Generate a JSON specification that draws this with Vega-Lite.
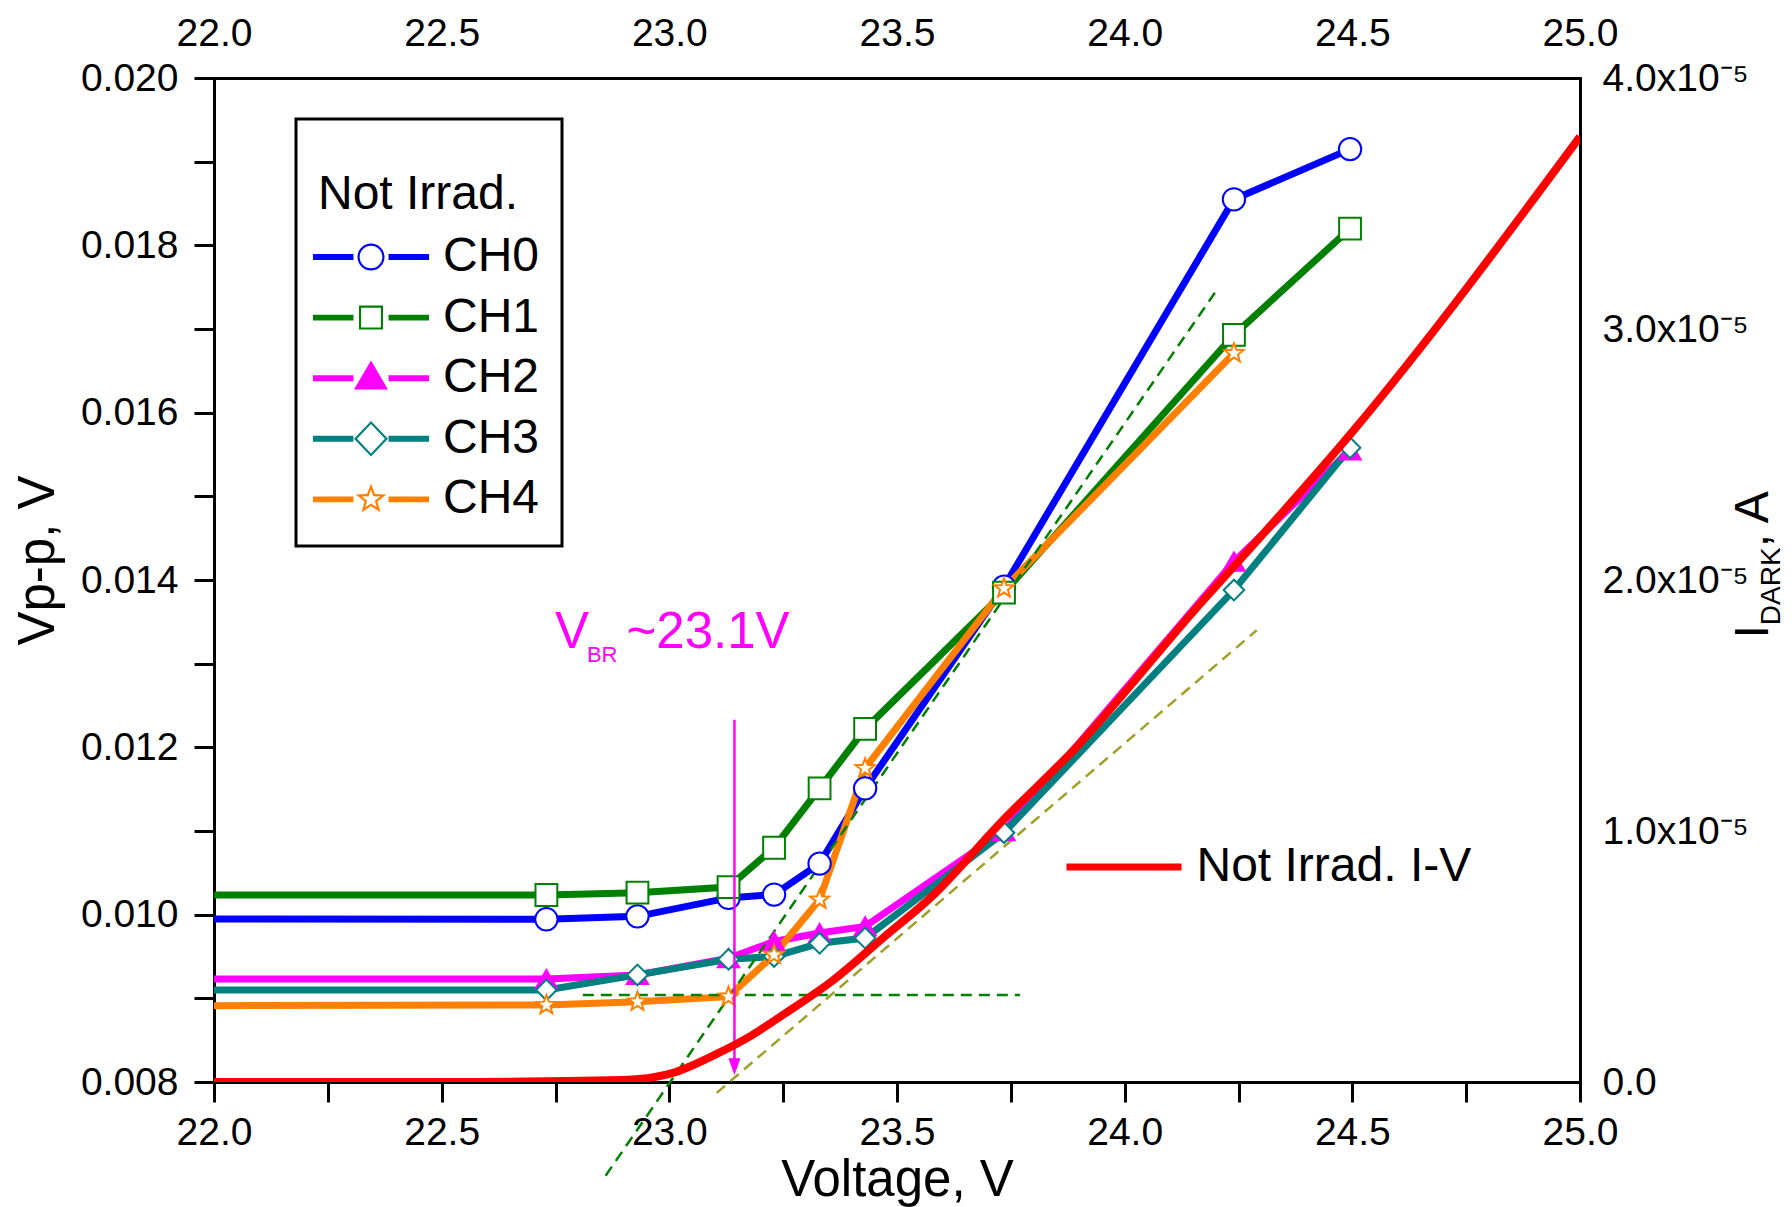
{
  "$schema": "https://vega.github.io/schema/vega-lite/v6.json",
  "width": 1366,
  "height": 1004,
  "autosize": {"type": "none"},
  "padding": {"left": 214, "top": 78, "right": 212, "bottom": 125},
  "background": "white",
  "config": {
    "font": "Liberation Sans",
    "view": {"stroke": null},
    "axis": {
      "domainColor": "black", "tickColor": "black", "labelColor": "black", "titleColor": "black",
      "labelFont": "Liberation Sans", "titleFont": "Liberation Sans",
      "labelFontSize": 39, "titleFontSize": 51, "titleFontWeight": "normal",
      "grid": false, "domainWidth": 3, "tickWidth": 3, "domainCap": "square",
      "labelFlush": false, "labelOverlap": false
    }
  },
  "datasets": {
    "channels": [
      {"ch": "CH0", "V": 21.75, "Vpp": 0.00995},
      {"ch": "CH0", "V": 22.73, "Vpp": 0.009945},
      {"ch": "CH0", "V": 22.93, "Vpp": 0.00998},
      {"ch": "CH0", "V": 23.13, "Vpp": 0.0102},
      {"ch": "CH0", "V": 23.23, "Vpp": 0.01024},
      {"ch": "CH0", "V": 23.33, "Vpp": 0.01061},
      {"ch": "CH0", "V": 23.43, "Vpp": 0.01151},
      {"ch": "CH0", "V": 23.735, "Vpp": 0.01392},
      {"ch": "CH0", "V": 24.24, "Vpp": 0.01855},
      {"ch": "CH0", "V": 24.495, "Vpp": 0.01915},
      {"ch": "CH1", "V": 21.75, "Vpp": 0.010235},
      {"ch": "CH1", "V": 22.73, "Vpp": 0.010235},
      {"ch": "CH1", "V": 22.93, "Vpp": 0.010263},
      {"ch": "CH1", "V": 23.13, "Vpp": 0.01033},
      {"ch": "CH1", "V": 23.23, "Vpp": 0.0108},
      {"ch": "CH1", "V": 23.33, "Vpp": 0.01151},
      {"ch": "CH1", "V": 23.43, "Vpp": 0.01222},
      {"ch": "CH1", "V": 23.735, "Vpp": 0.01385},
      {"ch": "CH1", "V": 24.24, "Vpp": 0.01693},
      {"ch": "CH1", "V": 24.495, "Vpp": 0.0182},
      {"ch": "CH2", "V": 21.75, "Vpp": 0.00923},
      {"ch": "CH2", "V": 22.73, "Vpp": 0.00923},
      {"ch": "CH2", "V": 22.93, "Vpp": 0.00928},
      {"ch": "CH2", "V": 23.13, "Vpp": 0.00948},
      {"ch": "CH2", "V": 23.23, "Vpp": 0.00968},
      {"ch": "CH2", "V": 23.33, "Vpp": 0.00978},
      {"ch": "CH2", "V": 23.43, "Vpp": 0.00986},
      {"ch": "CH2", "V": 23.735, "Vpp": 0.0110},
      {"ch": "CH2", "V": 24.24, "Vpp": 0.01422},
      {"ch": "CH2", "V": 24.495, "Vpp": 0.01555},
      {"ch": "CH3", "V": 21.75, "Vpp": 0.0091},
      {"ch": "CH3", "V": 22.73, "Vpp": 0.0091},
      {"ch": "CH3", "V": 22.93, "Vpp": 0.00928},
      {"ch": "CH3", "V": 23.13, "Vpp": 0.009466},
      {"ch": "CH3", "V": 23.23, "Vpp": 0.0095},
      {"ch": "CH3", "V": 23.33, "Vpp": 0.009658},
      {"ch": "CH3", "V": 23.43, "Vpp": 0.00972},
      {"ch": "CH3", "V": 23.735, "Vpp": 0.01098},
      {"ch": "CH3", "V": 24.24, "Vpp": 0.01388},
      {"ch": "CH3", "V": 24.495, "Vpp": 0.01558},
      {"ch": "CH4", "V": 21.75, "Vpp": 0.00891},
      {"ch": "CH4", "V": 22.73, "Vpp": 0.00892},
      {"ch": "CH4", "V": 22.93, "Vpp": 0.00896},
      {"ch": "CH4", "V": 23.13, "Vpp": 0.00902},
      {"ch": "CH4", "V": 23.23, "Vpp": 0.00952},
      {"ch": "CH4", "V": 23.33, "Vpp": 0.01018},
      {"ch": "CH4", "V": 23.43, "Vpp": 0.01175},
      {"ch": "CH4", "V": 23.735, "Vpp": 0.0139},
      {"ch": "CH4", "V": 24.24, "Vpp": 0.01671}
    ],
    "guides": [
      {"kind": "green", "V": 22.81, "Vpp": 0.00904, "V2": 23.77, "Vpp2": 0.00904},
      {"kind": "green", "V": 22.86, "Vpp": 0.00688, "V2": 24.198, "Vpp2": 0.017433},
      {"kind": "olive", "V": 23.104, "Vpp": 0.00787, "V2": 24.29, "Vpp2": 0.0134}
    ],
    "arrow": [{"V": 23.143, "Vpp": 0.01233, "Vpp2": 0.00825}],
    "arrowhead": [{"V": 23.143, "Vpp": 0.008184}],
    "vbrBig": [
      {"V": 22.749, "Vpp": 0.013184, "t": "V"},
      {"V": 22.906, "Vpp": 0.013184, "t": "~23.1V"}
    ],
    "vbrSmall": [{"V": 22.819, "Vpp": 0.01302, "t": "BR"}],
    "iv": [
      {"series": "Not Irrad. I-V", "V": 21.75, "I": 0},
      {"series": "Not Irrad. I-V", "V": 22.0, "I": 0},
      {"series": "Not Irrad. I-V", "V": 22.5, "I": 0},
      {"series": "Not Irrad. I-V", "V": 22.9, "I": 0.00000008},
      {"series": "Not Irrad. I-V", "V": 23.0, "I": 0.00000032},
      {"series": "Not Irrad. I-V", "V": 23.104, "I": 0.00000112},
      {"series": "Not Irrad. I-V", "V": 23.18, "I": 0.00000185},
      {"series": "Not Irrad. I-V", "V": 23.25, "I": 0.00000268},
      {"series": "Not Irrad. I-V", "V": 23.36, "I": 0.00000406},
      {"series": "Not Irrad. I-V", "V": 23.47, "I": 0.00000575},
      {"series": "Not Irrad. I-V", "V": 23.58, "I": 0.00000745},
      {"series": "Not Irrad. I-V", "V": 23.726, "I": 0.0000103},
      {"series": "Not Irrad. I-V", "V": 23.895, "I": 0.00001336},
      {"series": "Not Irrad. I-V", "V": 24.173, "I": 0.0000192},
      {"series": "Not Irrad. I-V", "V": 24.253, "I": 0.0000208},
      {"series": "Not Irrad. I-V", "V": 24.5, "I": 0.0000259},
      {"series": "Not Irrad. I-V", "V": 25.0, "I": 0.00003766}
    ],
    "rtBig": [
      {"V": 25.413, "I": 0.00001767, "t": "I"},
      {"V": 25.413, "I": 0.0000213, "t": ", A"}
    ],
    "rtSmall": [{"V": 25.439, "I": 0.0000182, "t": "DARK"}]
  },
  "layer": [
    {
      "data": {"name": "channels"},
      "encoding": {
        "x": {
          "field": "V", "type": "quantitative",
          "scale": {"domain": [22, 25], "nice": false, "zero": false},
          "axis": {
            "orient": "bottom",
            "values": [22, 22.25, 22.5, 22.75, 23, 23.25, 23.5, 23.75, 24, 24.25, 24.5, 24.75, 25],
            "labelExpr": "round(datum.value*4) % 2 == 0 ? format(datum.value, '.1f') : ''",
            "tickSize": 20, "labelPadding": 11,
            "title": "Voltage, V", "titleX": 683, "titleY": 113,
            "titleBaseline": "alphabetic", "titleAlign": "center",
            "encode": {"ticks": {"update": {"y2": {"signal": "round(datum.value*4) % 2 == 0 ? 20 : 10"}}}}
          }
        },
        "y": {
          "field": "Vpp", "type": "quantitative",
          "scale": {"domain": [0.008, 0.02], "nice": false, "zero": false},
          "axis": {
            "orient": "left",
            "values": [0.008, 0.009, 0.01, 0.011, 0.012, 0.013, 0.014, 0.015, 0.016, 0.017, 0.018, 0.019, 0.02],
            "labelExpr": "round(datum.value*1000) % 2 == 0 ? format(datum.value, '.3f') : ''",
            "tickSize": 20, "labelPadding": 16,
            "title": "Vp-p, V", "titleX": -161, "titleY": 482, "titleAngle": 270,
            "titleBaseline": "alphabetic", "titleAlign": "center",
            "encode": {"ticks": {"update": {"x2": {"signal": "round(datum.value*1000) % 2 == 0 ? -20 : -10"}}}}
          }
        }
      },
      "layer": [
        {
          "mark": {"type": "line", "strokeWidth": 7, "clip": true},
          "encoding": {
            "color": {
              "field": "ch", "type": "nominal",
              "scale": {"domain": ["CH0", "CH1", "CH2", "CH3", "CH4"], "range": ["#0000ff", "#008000", "#ff00ff", "#008080", "#ff8000"]},
              "legend": null
            }
          }
        },
        {
          "data": {"name": "guides"},
          "mark": {"type": "rule", "strokeWidth": 2.5, "strokeDash": [11, 7]},
          "encoding": {
            "x2": {"field": "V2"},
            "y2": {"field": "Vpp2"},
            "color": {
              "field": "kind", "type": "nominal",
              "scale": {"domain": ["green", "olive"], "range": ["#008000", "#a0a028"]},
              "legend": null
            }
          }
        },
        {
          "mark": {"type": "point", "strokeWidth": 2, "opacity": 1, "clip": true},
          "encoding": {
            "stroke": {
              "field": "ch", "type": "nominal",
              "scale": {"domain": ["CH0", "CH1", "CH2", "CH3", "CH4"], "range": ["#0000ff", "#008000", "#ff00ff", "#008080", "#ff8000"]},
              "legend": null
            },
            "fill": {
              "field": "ch", "type": "nominal",
              "scale": {"domain": ["CH0", "CH1", "CH2", "CH3", "CH4"], "range": ["#ffffff", "#ffffff", "#ff00ff", "#ffffff", "#ffffff"]},
              "legend": null
            },
            "shape": {
              "field": "ch", "type": "nominal",
              "scale": {"domain": ["CH0", "CH1", "CH2", "CH3", "CH4"], "range": ["circle", "square", "triangle-up", "diamond", "M0,-1L0.247,-0.34L0.951,-0.309L0.4,0.13L0.588,0.809L0,0.42L-0.588,0.809L-0.4,0.13L-0.951,-0.309L-0.247,-0.34Z"]},
              "legend": null
            },
            "size": {
              "field": "ch", "type": "ordinal",
              "scale": {"domain": ["CH0", "CH1", "CH2", "CH3", "CH4"], "range": [500, 400, 450, 720, 600]},
              "legend": null
            }
          }
        },
        {
          "data": {"name": "arrow"},
          "mark": {"type": "rule", "strokeWidth": 2.5, "color": "#ff00ff"},
          "encoding": {"y2": {"field": "Vpp2"}}
        },
        {
          "data": {"name": "arrowhead"},
          "mark": {"type": "point", "shape": "M-1,-1.4L1,-1.4L0,1.4Z", "size": 144, "filled": true, "color": "#ff00ff", "opacity": 1},
          "encoding": {}
        },
        {
          "data": {"name": "vbrBig"},
          "mark": {"type": "text", "align": "left", "baseline": "alphabetic", "fontSize": 51, "font": "Liberation Sans", "color": "#ff00ff"},
          "encoding": {"text": {"field": "t"}}
        },
        {
          "data": {"name": "vbrSmall"},
          "mark": {"type": "text", "align": "left", "baseline": "alphabetic", "fontSize": 22, "font": "Liberation Sans", "color": "#ff00ff"},
          "encoding": {"text": {"field": "t"}}
        },
        {
          "transform": [{"filter": "datum.V > 100"}],
          "mark": {"type": "point", "filled": true, "opacity": 1},
          "encoding": {
            "color": {
              "field": "ch", "type": "nominal",
              "scale": {"domain": ["CH0", "CH1", "CH2", "CH3", "CH4"], "range": ["#0000ff", "#008000", "#ff00ff", "#008080", "#ff8000"]},
              "legend": {
                "orient": "none", "legendX": 82, "legendY": 41,
                "title": ["", "Not Irrad."], "titleFontSize": 48, "titleFontWeight": "normal", "titleColor": "black",
                "titleFont": "Liberation Sans", "titleLineHeight": 30, "titlePadding": 14, "titleLimit": 1000,
                "labelFontSize": 48, "labelFont": "Liberation Sans", "labelColor": "black", "labelLimit": 1000,
                "symbolSize": 729, "symbolStrokeWidth": 0, "symbolOpacity": 1,
                "symbolOffset": 29, "labelOffset": 48, "rowPadding": 12.6,
                "padding": 22, "strokeColor": "black", "fillColor": "white",
                "encode": {"legend": {"update": {"strokeWidth": {"value": 3}}}}
              }
            },
            "shape": {
              "field": "ch", "type": "nominal",
              "scale": {
                "domain": ["CH0", "CH1", "CH2", "CH3", "CH4"],
                "range": [
                  "M-4.3,-0.22L-1.3,-0.22L-1.3,0.22L-4.3,0.22Z M1.3,-0.22L4.3,-0.22L4.3,0.22L1.3,0.22Z M1,0A1,1 0 1,1 -1,0A1,1 0 1,1 1,0Z M0.84,0A0.84,0.84 0 1,0 -0.84,0A0.84,0.84 0 1,0 0.84,0Z",
                  "M-4.3,-0.22L-1.3,-0.22L-1.3,0.22L-4.3,0.22Z M1.3,-0.22L4.3,-0.22L4.3,0.22L1.3,0.22Z M-0.89,-0.89L0.89,-0.89L0.89,0.89L-0.89,0.89Z M-0.73,-0.73L-0.73,0.73L0.73,0.73L0.73,-0.73Z",
                  "M-4.3,-0.22L-1.3,-0.22L-1.3,0.22L-4.3,0.22Z M1.3,-0.22L4.3,-0.22L4.3,0.22L1.3,0.22Z M0,-1.31L1.26,0.84L-1.26,0.84Z",
                  "M-4.3,-0.22L-1.3,-0.22L-1.3,0.22L-4.3,0.22Z M1.3,-0.22L4.3,-0.22L4.3,0.22L1.3,0.22Z M0,-1.32L1.26,0L0,1.32L-1.26,0Z M0,-1.09L-1.03,0L0,1.09L1.03,0Z",
                  "M-4.3,-0.22L-1.3,-0.22L-1.3,0.22L-4.3,0.22Z M1.3,-0.22L4.3,-0.22L4.3,0.22L1.3,0.22Z M0,-1.185L0.293,-0.403L1.127,-0.366L0.474,0.154L0.697,0.959L0,0.498L-0.697,0.959L-0.474,0.154L-1.127,-0.366L-0.293,-0.403Z M0,-0.711L-0.176,-0.242L-0.676,-0.22L-0.284,0.092L-0.418,0.575L0,0.299L0.418,0.575L0.284,0.092L0.676,-0.22L0.176,-0.242Z"
                ]
              },
              "legend": {
                "orient": "none", "legendX": 82, "legendY": 41,
                "title": ["", "Not Irrad."], "titleFontSize": 48, "titleFontWeight": "normal", "titleColor": "black",
                "titleFont": "Liberation Sans", "titleLineHeight": 30, "titlePadding": 14, "titleLimit": 1000,
                "labelFontSize": 48, "labelFont": "Liberation Sans", "labelColor": "black", "labelLimit": 1000,
                "symbolSize": 729, "symbolStrokeWidth": 0, "symbolOpacity": 1,
                "symbolOffset": 29, "labelOffset": 48, "rowPadding": 12.6,
                "padding": 22, "strokeColor": "black", "fillColor": "white",
                "encode": {"legend": {"update": {"strokeWidth": {"value": 3}}}}
              }
            }
          }
        }
      ],
      "resolve": {"scale": {"color": "independent", "shape": "independent", "fill": "independent", "stroke": "independent", "size": "independent"}}
    },
    {
      "encoding": {
        "x": {
          "field": "V", "type": "quantitative",
          "scale": {"domain": [22, 25], "nice": false, "zero": false},
          "axis": {
            "orient": "top",
            "values": [22, 22.25, 22.5, 22.75, 23, 23.25, 23.5, 23.75, 24, 24.25, 24.5, 24.75, 25],
            "labelExpr": "round(datum.value*4) % 2 == 0 ? format(datum.value, '.1f') : ''",
            "tickSize": 0, "labelPadding": 25, "title": null,
            "encode": {"ticks": {"update": {"y2": {"signal": "round(datum.value*4) % 2 == 0 ? 20 : 10"}}}}
          }
        },
        "y": {
          "field": "I", "type": "quantitative",
          "scale": {"domain": [0, 0.00004], "nice": false, "zero": false},
          "axis": {
            "orient": "right",
            "values": [0, 0.000005, 0.00001, 0.000015, 0.00002, 0.000025, 0.00003, 0.000035, 0.00004],
            "labelExpr": "datum.value == 0 ? '0.0' : (round(datum.value*200000) % 2 == 0 ? format(datum.value*100000, '.1f') + 'x10⁻⁵' : '')",
            "tickSize": 0, "labelPadding": 22, "title": null,
            "encode": {"ticks": {"update": {"x2": {"signal": "round(datum.value*200000) % 2 == 0 ? -20 : -10"}}}}
          }
        }
      },
      "layer": [
        {
          "data": {"name": "iv"},
          "mark": {"type": "line", "strokeWidth": 8, "interpolate": "monotone", "clip": true},
          "encoding": {
            "color": {
              "field": "series", "type": "nominal",
              "scale": {"range": ["#ff0000"]},
              "legend": {
                "orient": "none", "legendX": 849, "legendY": 728, "title": null,
                "labelFontSize": 48, "labelFont": "Liberation Sans", "labelColor": "black", "labelLimit": 1000,
                "symbolType": "stroke", "symbolSize": 13225, "symbolStrokeWidth": 7,
                "symbolOffset": 0, "labelOffset": 11.5, "padding": 0
              }
            }
          }
        },
        {
          "data": {"name": "rtBig"},
          "mark": {"type": "text", "angle": 270, "align": "left", "baseline": "alphabetic", "fontSize": 48, "font": "Liberation Sans", "color": "black"},
          "encoding": {"text": {"field": "t"}}
        },
        {
          "data": {"name": "rtSmall"},
          "mark": {"type": "text", "angle": 270, "align": "left", "baseline": "alphabetic", "fontSize": 28, "font": "Liberation Sans", "color": "black"},
          "encoding": {"text": {"field": "t"}}
        }
      ]
    }
  ],
  "resolve": {"scale": {"x": "independent", "y": "independent", "color": "independent"}}
}
